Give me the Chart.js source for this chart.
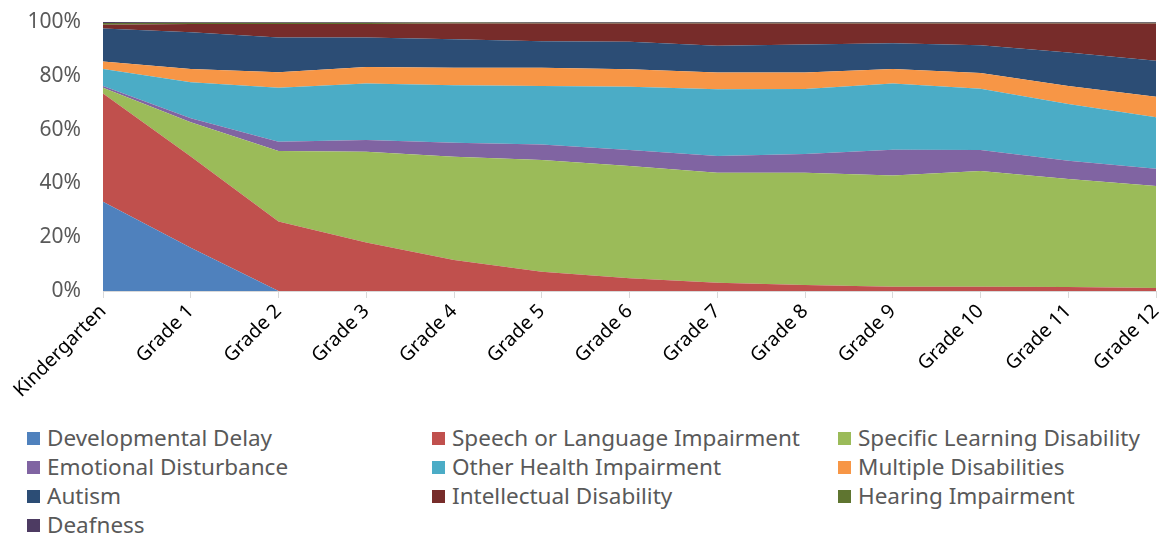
<!DOCTYPE html>
<html>
<head>
<meta charset="utf-8">
<title>Disability categories by grade</title>
<script src="https://cdn.jsdelivr.net/npm/chart.js@4.4.0/dist/chart.umd.min.js"></script>
<style>
  body { margin: 0; background: #fff; font-family: 'Noto Sans', sans-serif; }
  #wrap { position: relative; width: 1161px; height: 538px; }
  #box { position: absolute; left: 0; top: 0; width: 1161px; height: 420px; }
  #legend { position: absolute; left: 27px; top: 422px; width: 1134px; }
  .item { position: absolute; display: flex; align-items: center; color: #595959; font-size: 22.5px; line-height: 32px; white-space: nowrap; }
  .item i { display: inline-block; width: 13px; height: 13px; margin-right: 7px; }
</style>
</head>
<body>
<div id="wrap">
  <div id="box"><canvas id="chart"></canvas></div>
  <div id="legend"></div>
</div>
<script>
const grades = ['Kindergarten', 'Grade 1', 'Grade 2', 'Grade 3', 'Grade 4', 'Grade 5', 'Grade 6',
  'Grade 7', 'Grade 8', 'Grade 9', 'Grade 10', 'Grade 11', 'Grade 12'];

// share of students (%) in each category, per grade
const developmentalDelay = [33.2, 16.1, 0, 0, 0, 0, 0, 0, 0, 0, 0, 0, 0];
const speechLanguage     = [40.2, 33.9, 25.8, 18.0, 11.5, 7.2, 4.7, 3.1, 2.2, 1.6, 1.6, 1.5, 1.1];
const learningDisability = [2.2, 12.7, 26.2, 33.8, 38.4, 41.5, 41.8, 40.9, 41.8, 41.3, 43.0, 40.1, 37.9];
const emotional          = [0.6, 1.5, 3.5, 4.3, 5.2, 5.8, 5.9, 6.2, 6.9, 9.6, 7.8, 6.8, 6.4];
const otherHealth        = [6.3, 13.4, 20.1, 21.0, 21.4, 21.7, 23.5, 24.8, 24.2, 24.6, 22.8, 21.1, 19.2];
const multiple           = [2.8, 4.9, 5.7, 6.2, 6.5, 6.8, 6.5, 6.2, 6.1, 5.4, 5.8, 6.7, 7.6];
const autism             = [12.3, 13.7, 12.9, 10.9, 10.6, 9.8, 10.3, 10.0, 10.4, 9.6, 10.4, 12.5, 13.4];
const intellectual       = [1.4, 3.1, 5.1, 5.1, 5.8, 6.6, 6.7, 8.2, 7.8, 7.3, 8.0, 10.7, 13.8];
const hearing            = [0.6, 0.4, 0.4, 0.4, 0.4, 0.3, 0.3, 0.3, 0.3, 0.3, 0.3, 0.3, 0.3];
const deafness           = [0.4, 0.3, 0.3, 0.3, 0.3, 0.3, 0.3, 0.3, 0.3, 0.3, 0.3, 0.3, 0.3];

const yTicks = [0, 20, 40, 60, 80, 100];

const series = [
  ['Developmental Delay', developmentalDelay, '#4F81BD'],
  ['Speech or Language Impairment', speechLanguage, '#C0504D'],
  ['Specific Learning Disability', learningDisability, '#9BBB59'],
  ['Emotional Disturbance', emotional, '#8064A2'],
  ['Other Health Impairment', otherHealth, '#4BACC6'],
  ['Multiple Disabilities', multiple, '#F79646'],
  ['Autism', autism, '#2C4D75'],
  ['Intellectual Disability', intellectual, '#772C2A'],
  ['Hearing Impairment', hearing, '#5F7530'],
  ['Deafness', deafness, '#4D3B62']
];

const datasets = series.map(([label, data, color], i) => ({
  label: label,
  data: data,
  backgroundColor: color,
  borderColor: color,
  borderWidth: 0,
  pointRadius: 0,
  tension: 0,
  fill: i === 0 ? 'origin' : '-1'
}));

new Chart(document.getElementById('chart'), {
  type: 'line',
  data: { labels: grades, datasets: datasets },
  options: {
    responsive: true,
    maintainAspectRatio: false,
    animation: false,
    layout: { padding: { top: 22, right: 5, left: 0, bottom: 0 } },
    plugins: { legend: { display: false }, tooltip: { enabled: false } },
    scales: {
      x: {
        offset: false,
        afterFit: s => { s.height = 129; s.paddingLeft = 0; s.paddingRight = 0; },
        grid: { display: true, drawOnChartArea: false, tickLength: 7, color: '#d9d9d9' },
        border: { display: true, color: '#d9d9d9' },
        ticks: {
          maxRotation: 45, minRotation: 45, autoSkip: false, padding: 2,
          color: '#000', font: { family: "'Noto Sans', sans-serif", size: 19.5 }
        }
      },
      y: {
        stacked: true,
        min: 0, max: 100,
        afterFit: s => { s.width = 103; s.paddingTop = 0; s.paddingBottom = 0; },
        afterBuildTicks: s => { s.ticks = yTicks.map(v => ({ value: v })); },
        grid: { display: false },
        border: { display: false },
        ticks: {
          padding: 14,
          color: '#595959',
          font: { family: "'Noto Sans', sans-serif", size: 21 },
          callback: v => v + '%'
        }
      }
    }
  }
});

// legend in three columns, as in the original
const legend = document.getElementById('legend');
const colX = [0, 405, 811];
series.forEach(([label, , color], i) => {
  const el = document.createElement('div');
  el.className = 'item';
  el.style.left = colX[i % 3] + 'px';
  el.style.top = (Math.floor(i / 3) * 29) + 'px';
  el.innerHTML = '<i style="background:' + color + '"></i>' + label;
  legend.appendChild(el);
});
</script>
</body>
</html>
